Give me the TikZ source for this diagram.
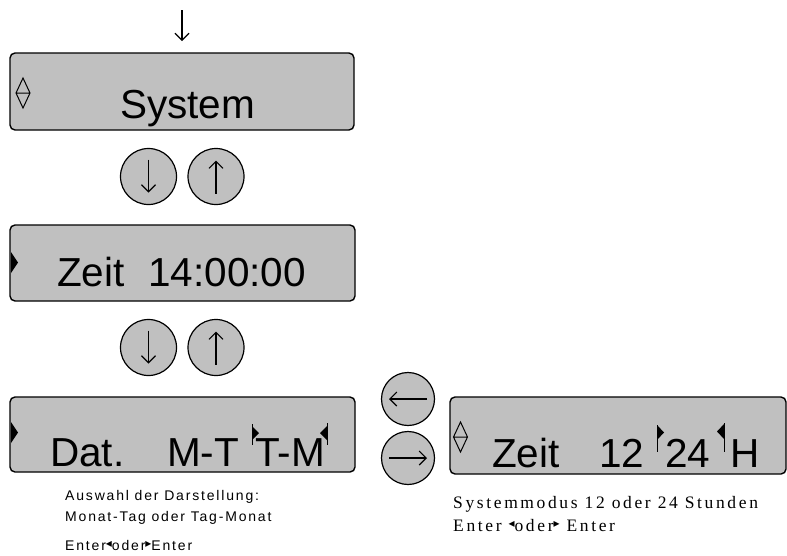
\documentclass[tikz,border=0pt]{standalone}
\usepackage{fontspec}
\setmainfont{Liberation Serif}
\setsansfont{Liberation Sans}
\newfontfamily\symfont{DejaVu Sans}
\usetikzlibrary{arrows.meta}
\definecolor{lcdgray}{RGB}{192,192,192}
\tikzset{
  lcd/.style={draw=black, line width=1.4pt, fill=lcdgray, rounded corners=5pt, inner sep=0pt},
  key/.style={circle, draw=black, line width=1.2pt, fill=lcdgray, minimum size=56pt, inner sep=0pt},
  glyph/.style={line width=1.1pt, -{Straight Barb[length=7pt,width=14pt]}},
  big/.style={font=\fontsize{40.5}{40}\selectfont\sffamily, anchor=base west, inner sep=0pt},
  notesans/.style={font=\fontsize{14}{14}\selectfont\sffamily\addfontfeature{LetterSpace=13}, anchor=base west, inner sep=0pt},
  noteserif/.style={font=\fontsize{17.5}{17}\selectfont\rmfamily\addfontfeature{LetterSpace=15}, anchor=base west, inner sep=0pt},
  cursormark/.style={fill=black},
  markline/.style={line width=0.8pt},
  updown/.style={line width=1pt}
}
\newcommand{\trileft}{{\symfont\raisebox{0.35ex}{\fontsize{12}{12}\selectfont ◂}}}
\newcommand{\triright}{{\symfont\raisebox{0.35ex}{\fontsize{12}{12}\selectfont ▸}}}
\begin{document}
\begin{tikzpicture}[x=1pt,y=-1pt]
\useasboundingbox (0,0) rectangle (787,555);

% top entry arrow
\coordinate (in0) at (182,10);
\coordinate (in1) at (182,41);
\draw[glyph] (in0) -- (in1);

% display boxes
\node[lcd, minimum width=344pt, minimum height=77pt] (sys) at (182,91.5) {};
\node[lcd, minimum width=345pt, minimum height=76pt] (zeit) at (182.5,263) {};
\node[lcd, minimum width=345pt, minimum height=75pt] (dat) at (182.5,434.5) {};
\node[lcd, minimum width=336pt, minimum height=77pt] (mode) at (618,435.5) {};

% keys
\node[key] (k1) at (148.5,176.5) {};
\node[key] (k2) at (216,176.5) {};
\node[key] (k3) at (148.5,347.5) {};
\node[key] (k4) at (216,347.5) {};
\node[key, minimum size=53pt] (kl) at (408,399) {};
\node[key, minimum size=53pt] (kr) at (408,458) {};
\draw[glyph] ([yshift=17pt]k1.center) -- ([yshift=-16pt]k1.center);
\draw[glyph] ([yshift=-17pt]k2.center) -- ([yshift=16pt]k2.center);
\draw[glyph] ([yshift=17pt]k3.center) -- ([yshift=-16pt]k3.center);
\draw[glyph] ([yshift=-17pt]k4.center) -- ([yshift=16pt]k4.center);
\draw[glyph] ([xshift=19pt]kl.center) -- ([xshift=-19pt]kl.center);
\draw[glyph] ([xshift=-19pt]kr.center) -- ([xshift=19pt]kr.center);

% left-edge markers
\draw[updown] (23,78) -- (30,93) -- (23,108) -- (16,93) -- cycle (16,93) -- (30,93);
\draw[updown] (460.5,422) -- (467.5,437) -- (460.5,452) -- (453.5,437) -- cycle (453.5,437) -- (467.5,437);
\fill[cursormark] (11,252) -- (18,262.5) -- (11,273) -- cycle;
\fill[cursormark] (11,422) -- (18,432.5) -- (11,443) -- cycle;

% display texts
\node[big] (tsys) at (120,118) {System};
\node[big] (tz1) at (57,286) {Zeit};
\node[big] (tz2) at (148,286) {14:00:00};
\node[big] (td1) at (50,466) {Dat.};
\node[big] (td2) at (167,466) {M-T};
\node[big] (td3) at (255,466) {T-M};
\node[big] (tm1) at (492,467) {Zeit};
\node[big] (tm2) at (599,467) {12};
\node[big] (tm3) at (665,467) {24};
\node[big] (tm4) at (730,467) {H};

% cursor markers in displays
\draw[markline] (252,424) -- (252,445);
\fill[cursormark] (252,426) -- (259,433) -- (252,440) -- cycle;
\draw[markline] (327,423) -- (327,445);
\fill[cursormark] (327,426) -- (320,433) -- (327,440) -- cycle;
\draw[markline] (657,425) -- (657,452);
\fill[cursormark] (657,425) -- (664,432.5) -- (657,440) -- cycle;
\draw[markline] (724,423) -- (724,452);
\fill[cursormark] (724,424) -- (717,431.5) -- (724,439) -- cycle;

% notes
\node[notesans] (n1) at (65,500) {Auswahl der Darstellung:};
\node[notesans] (n2) at (65,521) {Monat-Tag oder Tag-Monat};
\node[notesans] (n3) at (65,550) {Enter\trileft oder\triright Enter};
\node[noteserif] (n4) at (453,508) {Systemmodus 12 oder 24 Stunden};
\node[noteserif] (n5) at (453,531) {Enter \trileft oder\triright\ Enter};
\end{tikzpicture}
\end{document}
